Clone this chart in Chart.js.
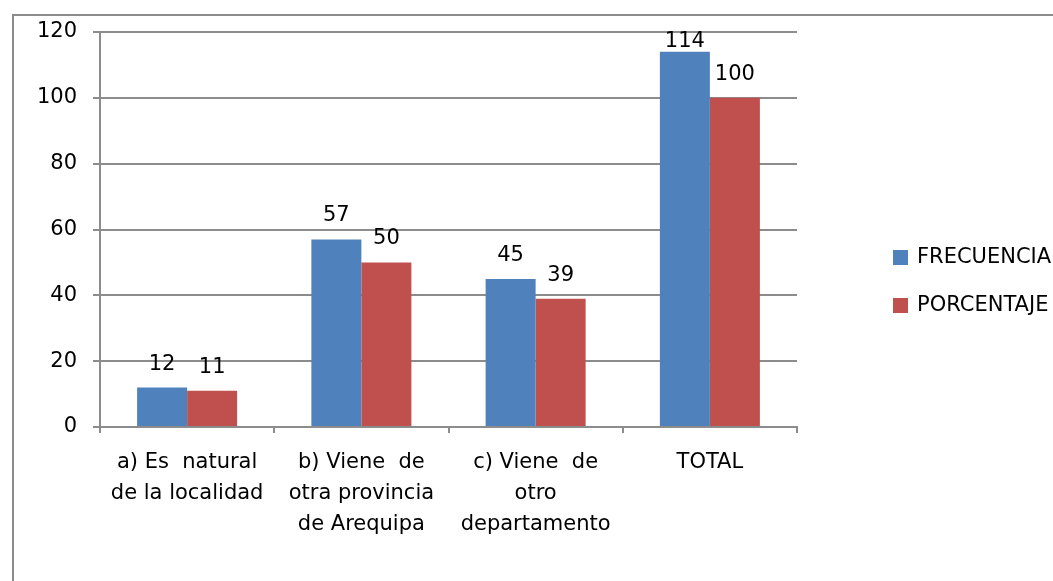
<!DOCTYPE html>
<html lang="es">
<head>
<meta charset="UTF-8">
<title>Procedencia</title>
<script src="https://cdn.jsdelivr.net/npm/chart.js"></script>
<style>
    body {
        margin: 0;
        background: #FFFFFF;
        overflow: hidden;
        font-family: "DejaVu Sans", sans-serif;
    }
    #frame {
        position: absolute;
        left: 12px;
        top: 14px;
        width: 1100px;
        height: 700px;
        border: 2px solid #8C8C8C;
    }
    #chartCanvas {
        position: absolute;
        left: 0;
        top: 0;
    }
</style>
</head>
<body>
<div id="frame"></div>
<canvas id="chartCanvas" width="1053" height="581"></canvas>

<script>
// data
const categories = [
    ['a) Es  natural', 'de la localidad'],
    ['b) Viene  de', 'otra provincia', 'de Arequipa'],
    ['c) Viene  de', 'otro', 'departamento'],
    ['TOTAL']
];
const frecuencia = [12, 57, 45, 114];
const porcentaje = [11, 50, 39, 100];
const yTicks = [0, 20, 40, 60, 80, 100, 120];
const seriesNames = ['FRECUENCIA', 'PORCENTAJE'];
const seriesColors = ['#4F81BD', '#C0504D'];

const gridColor = '#8C8C8C';
const fontFamily = '"DejaVu Sans", sans-serif';

// value labels above each bar, kept inside the plot at the top (like Excel)
const valueLabels = {
    id: 'valueLabels',
    afterDatasetsDraw(chart) {
        const ctx = chart.ctx;
        const top = chart.chartArea.top;
        ctx.save();
        ctx.font = '21px ' + fontFamily;
        ctx.fillStyle = '#000';
        ctx.textAlign = 'center';
        ctx.textBaseline = 'alphabetic';
        chart.data.datasets.forEach((ds, i) => {
            chart.getDatasetMeta(i).data.forEach((bar, j) => {
                const y = Math.max(bar.y - 18, top + 15);
                ctx.fillText(ds.data[j], bar.x, y);
            });
        });
        ctx.restore();
    }
};

// legend drawn by hand on the right, like the original
const sideLegend = {
    id: 'sideLegend',
    afterDraw(chart) {
        const ctx = chart.ctx;
        ctx.save();
        ctx.font = '21px ' + fontFamily;
        ctx.textBaseline = 'middle';
        ctx.textAlign = 'left';
        chart.data.datasets.forEach((ds, i) => {
            const y = 257 + i * 48;
            ctx.fillStyle = ds.backgroundColor;
            ctx.fillRect(893, y - 7, 15, 15);
            ctx.fillStyle = '#000';
            ctx.fillText(ds.label, 917, y + 1);
        });
        ctx.restore();
    }
};

const ctx = document.getElementById('chartCanvas').getContext('2d');
const chart = new Chart(ctx, {
    type: 'bar',
    data: {
        labels: categories,
        datasets: [
            { label: seriesNames[0], data: frecuencia, backgroundColor: seriesColors[0] },
            { label: seriesNames[1], data: porcentaje, backgroundColor: seriesColors[1] }
        ]
    },
    options: {
        responsive: false,
        animation: false,
        devicePixelRatio: 1,
        categoryPercentage: 0.574,
        barPercentage: 1,
        layout: {
            padding: { left: 0, top: 32, right: 256, bottom: 0 }
        },
        plugins: {
            legend: { display: false },
            tooltip: { enabled: false }
        },
        scales: {
            x: {
                afterFit(scale) { scale.height = 154; },
                grid: {
                    offset: true,
                    drawOnChartArea: false,
                    drawTicks: true,
                    tickLength: 6,
                    color: gridColor,
                    lineWidth: 2
                },
                border: { color: gridColor, width: 2 },
                ticks: {
                    color: '#000',
                    padding: 14,
                    maxRotation: 0,
                    autoSkip: false,
                    font: { family: fontFamily, size: 21, lineHeight: '31px' }
                }
            },
            y: {
                min: 0,
                max: 120,
                afterFit(scale) { scale.width = 100; },
                afterBuildTicks(scale) { scale.ticks = yTicks.map(v => ({ value: v })); },
                grid: {
                    color: gridColor,
                    lineWidth: 2,
                    tickLength: 7
                },
                border: { color: gridColor, width: 2 },
                ticks: {
                    color: '#000',
                    padding: 16,
                    font: { family: fontFamily, size: 21 }
                }
            }
        }
    },
    plugins: [valueLabels, sideLegend]
});
</script>
</body>
</html>
